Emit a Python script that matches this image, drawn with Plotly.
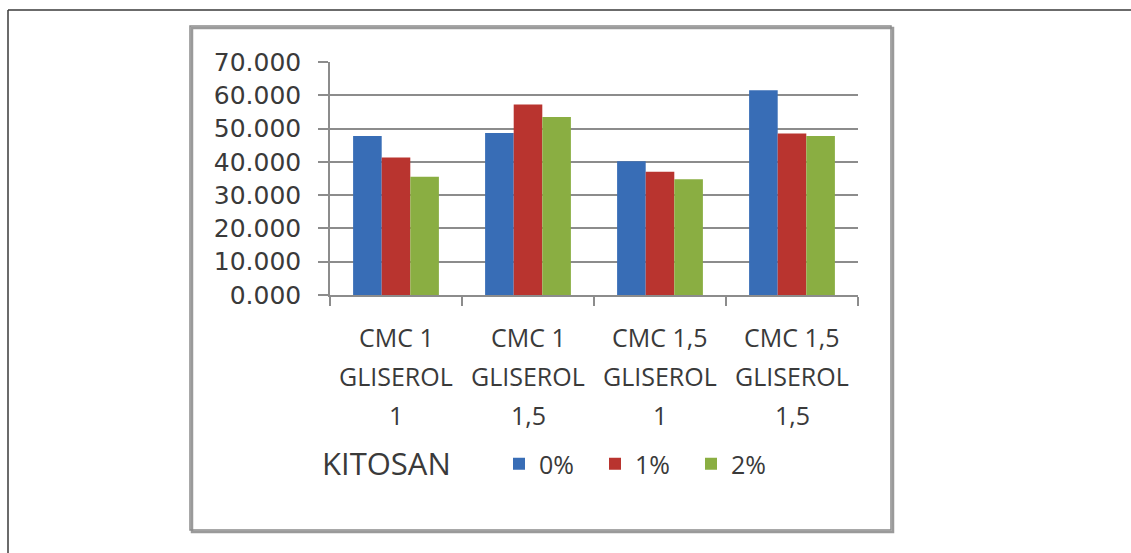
import plotly.graph_objects as go

# ---- data ----
cmc_labels = ["CMC 1", "CMC 1", "CMC 1,5", "CMC 1,5"]
gliserol_labels = ["1", "1,5", "1", "1,5"]
categories = [f"{c} GLISEROL {g}" for c, g in zip(cmc_labels, gliserol_labels)]
series_names = ["0%", "1%", "2%"]
values_0 = [47.8, 48.7, 40.2, 61.5]
values_1 = [41.3, 57.2, 37.0, 48.5]
values_2 = [35.5, 53.5, 34.8, 47.8]
series_values = [values_0, values_1, values_2]
colors = ["#386db6", "#b9342f", "#8aae42"]
y_ticks = [0, 10, 20, 30, 40, 50, 60, 70]
legend_title = "KITOSAN"

W, H = 1131, 553
L, R, T, B = 330, 273, 62, 258
PW, PH = W - L - R, H - T - B


def px_x(px):
    return (px - L) / PW


def px_y(py):
    return (H - B - py) / PH


fig = go.Figure()
for name, vals, col in zip(series_names, series_values, colors):
    fig.add_trace(go.Bar(x=categories, y=vals, name=name,
                         marker=dict(color=col, line=dict(width=0))))

text_col = "#3a3a3a"
label_font = dict(family="Open Sans", size=25, color=text_col)
annotations = []
for cat, cmc, gl in zip(categories, cmc_labels, gliserol_labels):
    for text, py in ((cmc, 337), ("GLISEROL", 376), (gl, 415)):
        annotations.append(dict(x=cat, xref="x", y=px_y(py), yref="paper",
                                text=text, showarrow=False, yanchor="middle",
                                xanchor="center", font=label_font))
# legend heading
annotations.append(dict(x=px_x(320), xref="paper", y=px_y(463), yref="paper",
                        text=legend_title, showarrow=False, xanchor="left",
                        yanchor="middle",
                        font=dict(family="Open Sans", size=31, color=text_col)))

shapes = [
    # outer frame (top and left)
    dict(type="line", xref="paper", yref="paper", x0=px_x(8), x1=px_x(1131),
         y0=px_y(10), y1=px_y(10), line=dict(color="#3a3a3a", width=1.5)),
    dict(type="line", xref="paper", yref="paper", x0=px_x(8), x1=px_x(8),
         y0=px_y(10), y1=px_y(553), line=dict(color="#3a3a3a", width=1.5)),
    # chart box shadow
    dict(type="rect", xref="paper", yref="paper", x0=px_x(192), x1=px_x(893),
         y0=px_y(28), y1=px_y(532), line=dict(color="#9a9a9a", width=2.5),
         layer="below"),
    # chart box
    dict(type="rect", xref="paper", yref="paper", x0=px_x(190), x1=px_x(891),
         y0=px_y(26), y1=px_y(530), line=dict(color="#8c8c8c", width=1.5),
         layer="below"),
]

fig.update_layout(
    width=W, height=H, autosize=False,
    margin=dict(l=L, r=R, t=T, b=B, pad=0),
    paper_bgcolor="white", plot_bgcolor="white",
    barmode="group", bargap=0.35, bargroupgap=0,
    showlegend=True,
    legend=dict(orientation="h", x=px_x(499), xanchor="left",
                y=px_y(464), yanchor="middle",
                font=dict(family="Open Sans", size=25, color=text_col),
                entrywidth=51, entrywidthmode="pixels",
                bgcolor="rgba(0,0,0,0)"),
    annotations=annotations,
    shapes=shapes,
    xaxis=dict(type="category", showticklabels=False, tickson="boundaries",
               ticks="outside", ticklen=9, tickcolor="#8c8c8c", tickwidth=1.5,
               showline=True, linecolor="#8c8c8c", linewidth=1.5,
               showgrid=False, zeroline=False),
    yaxis=dict(range=[0, 70], tickvals=y_ticks, tickformat=".3f",
               ticks="outside", ticklen=10, tickcolor="#8c8c8c", tickwidth=1.5,
               showline=True, linecolor="#8c8c8c", linewidth=1.5,
               showgrid=True, gridcolor="#8c8c8c", gridwidth=1.5,
               zeroline=False, ticklabelstandoff=12,
               tickfont=dict(family="DejaVu Sans", size=25, color=text_col)),
)

fig.write_html("out.html")
